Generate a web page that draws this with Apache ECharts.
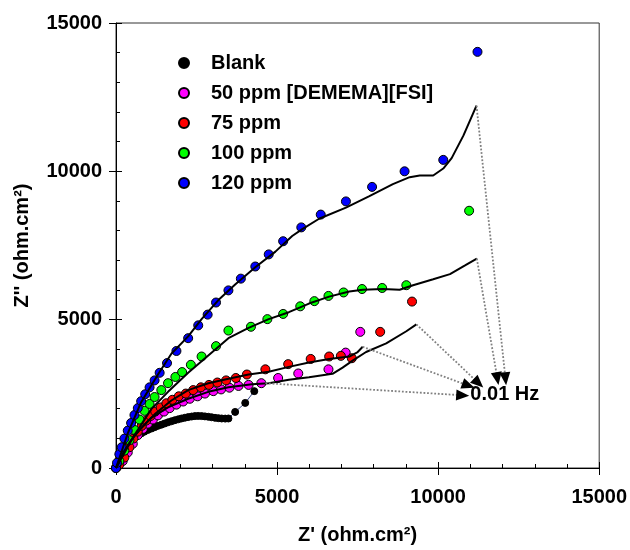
<!DOCTYPE html>
<html><head><meta charset="utf-8">
<script src="https://cdn.jsdelivr.net/npm/echarts@6/dist/echarts.min.js"></script>
<style>html,body{margin:0;padding:0;background:#fff}#c{width:630px;height:550px}</style>
</head><body><div id="c"></div>
<script>
// ---------------- data ----------------
const seriesNames = ['Blank', '50 ppm [DEMEMA][FSI]', '75 ppm', '100 ppm', '120 ppm'];
const xTicks = [0, 5000, 10000, 15000];
const yTicks = [0, 5000, 10000, 15000];

const blankPts = [[0,0],[40,150],[104,350],[180,560],[260,700],[340,800],[417,875],[500,950],[573,1027],[680,1100],[781,1167],[880,1225],[990,1284],[1100,1330],[1198,1377],[1300,1420],[1407,1459],[1510,1500],[1615,1540],[1720,1575],[1823,1610],[1930,1640],[2032,1669],[2140,1695],[2240,1715],[2350,1735],[2449,1750],[2550,1755],[2657,1750],[2760,1740],[2865,1727],[2970,1710],[3074,1692],[3180,1680],[3282,1669],[3390,1665],[3490,1669],[3699,1890],[4012,2194],[4293,2591]];

const ppm50Pts = [[0,0],[52,58],[208,233],[365,525],[521,817],[677,1109],[834,1319],[990,1494],[1146,1634],[1302,1774],[1490,1902],[1667,2019],[1876,2136],[2084,2241],[2292,2334],[2532,2416],[2761,2509],[3022,2591],[3262,2649],[3522,2707],[3803,2766],[4116,2801],[4512,2859],[5033,3034],[5658,3186],[6596,3326],[7130,3890],[7583,4589]];

const ppm75Pts = [[0,0],[104,117],[260,350],[417,700],[542,992],[677,1225],[802,1424],[938,1599],[1073,1751],[1219,1902],[1386,2042],[1563,2182],[1750,2299],[1948,2416],[2167,2509],[2397,2626],[2636,2719],[2886,2801],[3147,2882],[3418,2953],[3720,3034],[4064,3151],[4637,3326],[5345,3501],[6044,3676],[6617,3758],[6980,3780],[7320,3700],[8201,4589],[9190,5610]];

const ppm100Pts = [[0,0],[104,233],[260,584],[417,934],[573,1284],[729,1634],[886,1926],[1042,2159],[1198,2392],[1407,2626],[1615,2859],[1844,3069],[2053,3233],[2324,3478],[2657,3758],[3105,4108],[3490,4633],[4189,4761],[4699,5018],[5189,5193],[5720,5450],[6158,5625],[6596,5800],[7065,5917],[7638,6033],[8263,6068],[9013,6162],[10962,8671]];

const ppm120Pts = [[0,0],[31,175],[104,467],[177,700],[260,992],[365,1260],[469,1517],[573,1785],[677,2019],[781,2252],[906,2486],[1042,2719],[1198,2953],[1355,3209],[1584,3536],[1876,3944],[2240,4376],[2553,4808],[2845,5170],[3105,5578],[3490,5987],[3876,6383],[4324,6792],[4741,7200],[5189,7644],[5752,8110],[6356,8542],[7138,8986],[7950,9476],[8958,10001],[10159,10386],[11222,14027]];

// fitted curves
const fit50 = [[0,0],[260,584],[573,1109],[1094,1692],[1615,2042],[2240,2334],[2865,2567],[3490,2719],[4220,2824],[4741,2859],[5366,2976],[5991,3058],[6721,3174],[7034,3384],[7346,3618],[7763,3909],[8388,4201],[9013,4610],[9326,4843]];
const fit75 = [[0,0],[208,467],[469,934],[781,1342],[1198,1809],[1719,2276],[2240,2626],[2865,2859],[3490,3011],[4116,3151],[4741,3244],[5366,3408],[5991,3559],[6617,3676],[7242,3758],[7503,3909],[7659,4085]];
const fit100 = [[0,0],[573,1109],[1094,1984],[1615,2567],[2240,3209],[2865,3793],[3490,4376],[4116,4726],[4741,5018],[5366,5252],[5991,5543],[6617,5777],[7242,5952],[7659,6010],[8284,6033],[8805,6010],[9222,6162],[9847,6360],[10368,6535],[10836,6827],[11201,7061]];
const fit120 = [[0,0],[365,1167],[781,2217],[1302,3151],[1719,3851],[2240,4435],[2657,5018],[3178,5660],[3699,6185],[4324,6769],[4949,7294],[5470,7819],[5783,8052],[6304,8402],[7138,8776],[7867,9161],[8596,9569],[9117,9803],[9430,9861],[9847,9861],[10159,10094],[10420,10444],[10784,11203],[11191,12215]];

// frequency annotation arrows
const arrowStarts = [[11191,12215],[11201,7061],[9326,4843],[7659,4085],[4637,2859]];
const arrowEnds   = [[12090,3010],[11840,3010],[11254,2860],[10940,2777],[10763,2451]];
const noteText = '0.01 Hz';
const notePos = [11000, 2480];

// ---------------- chart ----------------
const colors = ['#000000', '#FF00FF', '#FF0000', '#00FF00', '#0000FF'];
const pts = [blankPts, ppm50Pts, ppm75Pts, ppm100Pts, ppm120Pts];
const fits = [fit50, fit75, fit100, fit120];
const FONT = '"Liberation Sans", Arial, sans-serif';

const series = [];
series.push({type:'line', data: blankPts, showSymbol:false, silent:true,
  lineStyle:{color:'#334488', width:1}, z:1});
pts.forEach((d, i) => {
  series.push({
    name: seriesNames[i], type:'scatter', data:d,
    symbol:'circle', symbolSize: i === 0 ? 7 : 9,
    itemStyle:{color: colors[i], borderColor:'#000', borderWidth:1, opacity:1},
    z:2
  });
});
fits.forEach(f => {
  series.push({type:'line', data:f, showSymbol:false, silent:true,
    lineStyle:{color:'#000', width:2}, z:3});
});
const pairs = arrowStarts.map((s, i) => [{coord:s}, {coord:arrowEnds[i]}]);
series.push({type:'line', data:[], silent:true, z:4,
  markLine:{silent:true, animation:false, symbol:['none','none'],
    label:{show:false}, lineStyle:{type:'dotted', color:'#808080', width:1.8},
    data: pairs}});
series.push({type:'line', data:[], silent:true, z:5,
  markLine:{silent:true, animation:false, symbol:['none','triangle'], symbolSize:[11,13],
    label:{show:false}, lineStyle:{type:'solid', color:'#000', width:0},
    data: pairs}});
series.push({type:'scatter', data:[notePos], symbolSize:0, silent:true, z:6,
  itemStyle:{opacity:1},
  label:{show:true, position:'right', distance:0, formatter: noteText,
    color:'#000', fontFamily:FONT, fontWeight:'bold', fontSize:20}});

const axisBase = (ticks) => ({
  type:'value', min: ticks[0], max: ticks[ticks.length-1], interval: ticks[1]-ticks[0],
  splitLine:{show:false}
});
const fmt = v => String(v);

const option = {
  animation:false,
  backgroundColor:'#fff',
  grid:{left:116, right:28, top:23, bottom:76, show:true, borderColor:'#333', borderWidth:1},
  legend:{
    data: seriesNames, orient:'vertical', left:173, top:48, itemGap:10,
    itemWidth:10, itemHeight:10, icon:'circle',
    itemStyle:{opacity:1},
    textStyle:{fontFamily:FONT, fontWeight:'bold', fontSize:20, color:'#000', lineHeight:20, padding:[0,0,0,17]},
    selectedMode:false
  },
  xAxis:[
    Object.assign(axisBase(xTicks), {
      position:'bottom',
      name:"Z' (ohm.cm²)", nameLocation:'middle', nameGap:57,
      nameTextStyle:{fontFamily:FONT, fontWeight:'bold', fontSize:20, color:'#000'},
      axisLine:{show:true, lineStyle:{color:'#000', width:1}},
      axisTick:{show:true, inside:false, length:7, lineStyle:{color:'#000'}},
      axisLabel:{margin:19, formatter: fmt, fontFamily:FONT, fontWeight:'bold', fontSize:20, color:'#000'}
    }),
    Object.assign(axisBase(xTicks), {
      position:'bottom',
      axisLine:{show:false}, axisLabel:{show:false},
      axisTick:{show:true, inside:true, length:6, lineStyle:{color:'#000'}},
      minorTick:{show:true, splitNumber:5, length:4, lineStyle:{color:'#000'}}
    })
  ],
  yAxis:[
    Object.assign(axisBase(yTicks), {
      position:'left',
      name:"Z'' (ohm.cm²)", nameLocation:'middle', nameGap:84,
      nameTextStyle:{fontFamily:FONT, fontWeight:'bold', fontSize:20, color:'#000'},
      axisLine:{show:true, lineStyle:{color:'#000', width:1}},
      axisTick:{show:true, inside:false, length:7, lineStyle:{color:'#000'}},
      axisLabel:{margin:14, formatter: fmt, fontFamily:FONT, fontWeight:'bold', fontSize:20, color:'#000'}
    }),
    Object.assign(axisBase(yTicks), {
      position:'left',
      axisLine:{show:false}, axisLabel:{show:false},
      axisTick:{show:true, inside:true, length:6, lineStyle:{color:'#000'}},
      minorTick:{show:true, splitNumber:5, length:4, lineStyle:{color:'#000'}}
    })
  ],
  series: series
};

const chart = echarts.init(document.getElementById('c'), null, {renderer:'canvas'});
chart.setOption(option);
</script>
</body></html>
